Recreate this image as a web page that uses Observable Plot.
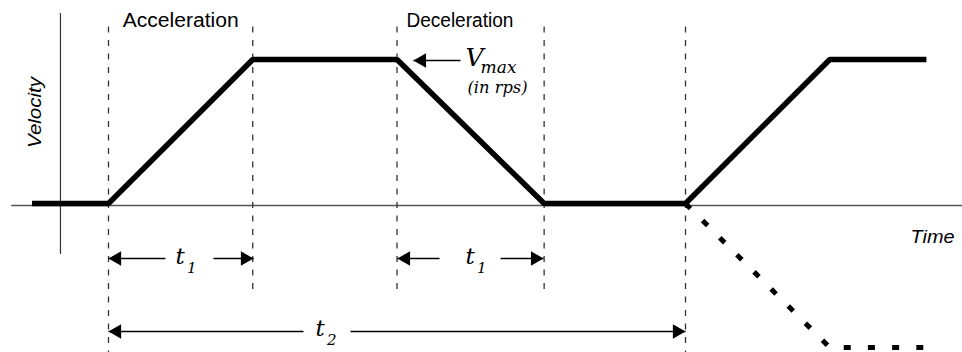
<!DOCTYPE html>
<html><head><meta charset="utf-8">
<script src="https://cdn.jsdelivr.net/npm/d3@7"></script>
<script src="https://cdn.jsdelivr.net/npm/@observablehq/plot@0.6"></script>
<style>
html,body{margin:0;padding:0;background:#fff;}
#chart svg{display:block;}
</style>
</head><body><div id="chart"></div>
<script>
// Time in units of t1, velocity in units of Vmax
const profileTime = [-0.53, 0, 1, 2, 3.02, 4, 5, 5.67];
const profileVelocity = [0, 0, 1, 1, 0, 0, 1, 1];
const reverseTime = [4, 5, 5.67];
const reverseVelocity = [0, -1, -1];

const markerTime = [0, 1, 2, 3.02, 4];
const markerTop = [1.229, 1.229, 1.229, 1.229, 1.229];
const markerBottom = [-1.035, -0.604, -0.604, -0.604, -1.035];

const hAxisTime = [-0.67, 5.93];
const hAxisVelocity = [-0.014, -0.014];
const vAxisTime = [-0.333, -0.333];
const vAxisVelocity = [1.319, -0.347];

const phaseLabels = ["Acceleration", "Deceleration"];
const phaseTime = [0.5, 2.436];
const phaseVelocity = [1.229, 1.229];

// dimension arrows (shaft segments)
const shaftStart = [0, 0.728, 2.003, 2.718, 0, 1.678, 2.114];
const shaftEnd = [0.395, 1.005, 2.295, 3.016, 1.352, 4, 2.44];
const shaftVelocity = [-0.382, -0.382, -0.382, -0.382, -0.889, -0.889, 0.993];
const leftTipTime = [0, 2.003, 0, 2.114];
const leftTipVelocity = [-0.382, -0.382, -0.889, 0.993];
const rightTipTime = [1.005, 3.016, 4];
const rightTipVelocity = [-0.382, -0.382, -0.889];

// t labels
const tLabelTime = [0.4645, 2.475, 1.435];
const tLabelVelocity = [-0.417, -0.417, -0.917];
const tSubscripts = ["1", "1", "2"];

const vmaxLabel = ["V"];
const vmaxSub = ["max"];
const vmaxNote = ["(in rps)"];
const vmaxTime = [2.475];
const vmaxVelocity = [0.958];

const axisLabels = ["Time", "Velocity"];
const axisLabelTime = [5.56, -0.51];
const axisLabelVelocity = [-0.271, 0.632];

const idx = n => d3.range(n);
const serif = "'DejaVu Serif', 'Liberation Serif', serif";
const sans = "'Liberation Sans', Arial, Helvetica, sans-serif";

const svg = Plot.plot({
  width: 962,
  height: 352,
  margin: 0,
  x: {domain: [0, 4], range: [108, 685], axis: null},
  y: {domain: [-1, 1], range: [347, 59], axis: null},
  style: {background: "#fff"},
  marks: [
    // axes
    Plot.line(idx(2), {x: i => hAxisTime[i], y: i => hAxisVelocity[i], stroke: "#555", strokeWidth: 1.6}),
    Plot.line(idx(2), {x: i => vAxisTime[i], y: i => vAxisVelocity[i], stroke: "#333", strokeWidth: 1.2}),
    // dashed phase markers
    Plot.link(idx(markerTime.length), {
      x1: i => markerTime[i], x2: i => markerTime[i],
      y1: i => markerTop[i], y2: i => markerBottom[i],
      stroke: "#333", strokeWidth: 1.3, strokeDasharray: "6,7.5"
    }),
    // velocity profile
    Plot.line(idx(profileTime.length), {
      x: i => profileTime[i], y: i => profileVelocity[i],
      stroke: "#000", strokeWidth: 5.5, strokeLinejoin: "miter", strokeLinecap: "butt"
    }),
    Plot.line(idx(reverseTime.length), {
      x: i => reverseTime[i], y: i => reverseVelocity[i],
      stroke: "#000", strokeWidth: 5, strokeDasharray: "7,17.2", strokeLinecap: "butt"
    }),
    // arrow shafts
    Plot.link(idx(shaftStart.length), {
      x1: i => shaftStart[i], x2: i => shaftEnd[i],
      y1: i => shaftVelocity[i], y2: i => shaftVelocity[i],
      stroke: "#000", strokeWidth: 1.6
    }),
    // arrow heads
    Plot.dot(idx(leftTipTime.length), {
      x: i => leftTipTime[i], y: i => leftTipVelocity[i],
      symbol: "triangle", r: 5.4, rotate: -90, dx: 8.4, fill: "#000", stroke: "none"
    }),
    Plot.dot(idx(rightTipTime.length), {
      x: i => rightTipTime[i], y: i => rightTipVelocity[i],
      symbol: "triangle", r: 5.4, rotate: 90, dx: -8.4, fill: "#000", stroke: "none"
    }),
    // phase labels
    Plot.text(idx(phaseLabels.length), {
      x: i => phaseTime[i], y: i => phaseVelocity[i], text: i => phaseLabels[i],
      textAnchor: "middle", lineAnchor: "bottom", fontFamily: sans, fontSize: 19.5, fill: "#000"
    }),
    // axis labels
    Plot.text([0], {
      x: () => axisLabelTime[0], y: () => axisLabelVelocity[0], text: () => axisLabels[0],
      textAnchor: "start", lineAnchor: "bottom", fontFamily: sans, fontSize: 19, fontStyle: "italic", fill: "#000"
    }),
    Plot.text([1], {
      x: () => axisLabelTime[1], y: () => axisLabelVelocity[1], text: () => axisLabels[1],
      textAnchor: "middle", lineAnchor: "middle", rotate: -90, fontFamily: sans, fontSize: 19, fontStyle: "italic", fill: "#000"
    }),
    // t labels
    Plot.text(idx(tLabelTime.length), {
      x: i => tLabelTime[i], y: i => tLabelVelocity[i], text: () => "t",
      textAnchor: "start", lineAnchor: "bottom", fontFamily: serif, fontSize: 23, fontStyle: "italic", fill: "#000"
    }),
    Plot.text(idx(tLabelTime.length), {
      x: i => tLabelTime[i], y: i => tLabelVelocity[i], text: i => tSubscripts[i],
      textAnchor: "start", lineAnchor: "bottom", dx: 11.5, dy: 9.5,
      fontFamily: serif, fontSize: 15, fontStyle: "italic", fill: "#000"
    }),
    // Vmax label
    Plot.text(idx(1), {
      x: i => vmaxTime[i], y: i => vmaxVelocity[i], text: i => vmaxLabel[i],
      textAnchor: "start", lineAnchor: "bottom", fontFamily: serif, fontSize: 25, fontStyle: "italic", fill: "#000"
    }),
    Plot.text(idx(1), {
      x: i => vmaxTime[i], y: i => vmaxVelocity[i], text: i => vmaxSub[i],
      textAnchor: "start", lineAnchor: "bottom", dx: 15, dy: 7.5,
      fontFamily: serif, fontSize: 17, fontStyle: "italic", fill: "#000"
    }),
    Plot.text(idx(1), {
      x: i => vmaxTime[i], y: i => vmaxVelocity[i], text: i => vmaxNote[i],
      textAnchor: "start", lineAnchor: "bottom", dx: 2, dy: 27.5,
      fontFamily: serif, fontSize: 16, fontStyle: "italic", fill: "#000"
    })
  ]
});

// stretch labels to the widths seen in the reference
const fits = {"Acceleration": 116, "Deceleration": 107, "Velocity": 71, "Time": 44, "(in rps)": 60, "max": 36};
d3.select(svg).selectAll("text").each(function () {
  const t = this.textContent;
  if (fits[t]) {
    this.setAttribute("textLength", fits[t]);
    this.setAttribute("lengthAdjust", "spacingAndGlyphs");
  }
});

document.getElementById("chart").appendChild(svg);
</script>
</body></html>
